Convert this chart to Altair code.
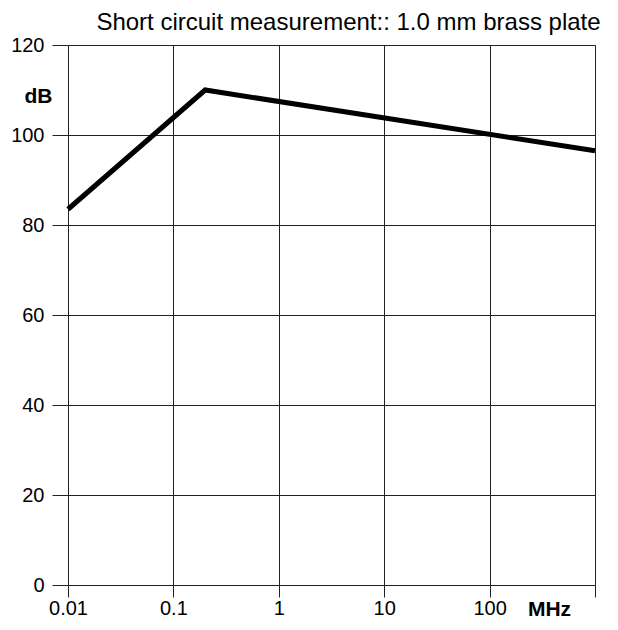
import altair as alt
import pandas as pd

freq_mhz = [0.01, 0.2, 1000]
level_db = [83.5, 110.0, 96.5]
x_ticks = [0.01, 0.1, 1, 10, 100, 1000]
y_ticks = [0, 20, 40, 60, 80, 100, 120]
title_text = "Short circuit measurement:: 1.0 mm brass plate"

df = pd.DataFrame({"f": freq_mhz, "db": level_db})

FONT = "Liberation Sans"

x_axis = alt.Axis(
    values=x_ticks,
    labelExpr="datum.value == 1000 ? '' : (datum.value < 1 ? format(datum.value, '') : format(datum.value, 'd'))",
    grid=True, gridColor="#222", gridWidth=1, gridOpacity=1,
    domain=False, ticks=True, tickSize=12, tickColor="#222", tickWidth=1,
    labelFont=FONT, labelFontSize=20, labelColor="#000", labelPadding=1,
    labelFlush=False,
    title="MHz", titleFont=FONT, titleFontSize=21, titleFontWeight="bold",
    titleColor="#000", titleX=481, titleY=13, titleAlign="center",
    titleBaseline="top",
)
y_axis = alt.Axis(
    values=y_ticks,
    grid=True, gridColor="#222", gridWidth=1, gridOpacity=1,
    domain=False, ticks=True, tickSize=16, tickColor="#222", tickWidth=1,
    labelFont=FONT, labelFontSize=20, labelColor="#000", labelPadding=8,
    labelFlush=False,
    title="dB", titleFont=FONT, titleFontSize=21, titleFontWeight="bold",
    titleColor="#000", titleAngle=0, titleX=-30, titleY=51,
    titleAlign="center", titleBaseline="middle",
)

chart = alt.Chart(df).mark_line(color="#000", strokeWidth=5, strokeCap="butt", strokeJoin="miter").encode(
    x=alt.X("f:Q", scale=alt.Scale(type="log", domain=[0.01, 1000], nice=False), axis=x_axis),
    y=alt.Y("db:Q", scale=alt.Scale(domain=[0, 120], nice=False), axis=y_axis),
).properties(
    width=527, height=540,
    title=alt.TitleParams(title_text, font=FONT, fontSize=24, fontWeight="normal",
                          color="#000", anchor="middle", offset=0, dx=17),
    autosize=alt.AutoSizeParams(type="none"),
    padding={"left": 60, "top": 37, "right": 15, "bottom": 37},
).configure_view(stroke=None).configure(background="white")

chart.save("out.html", embed_options={"renderer": "svg", "actions": False})
